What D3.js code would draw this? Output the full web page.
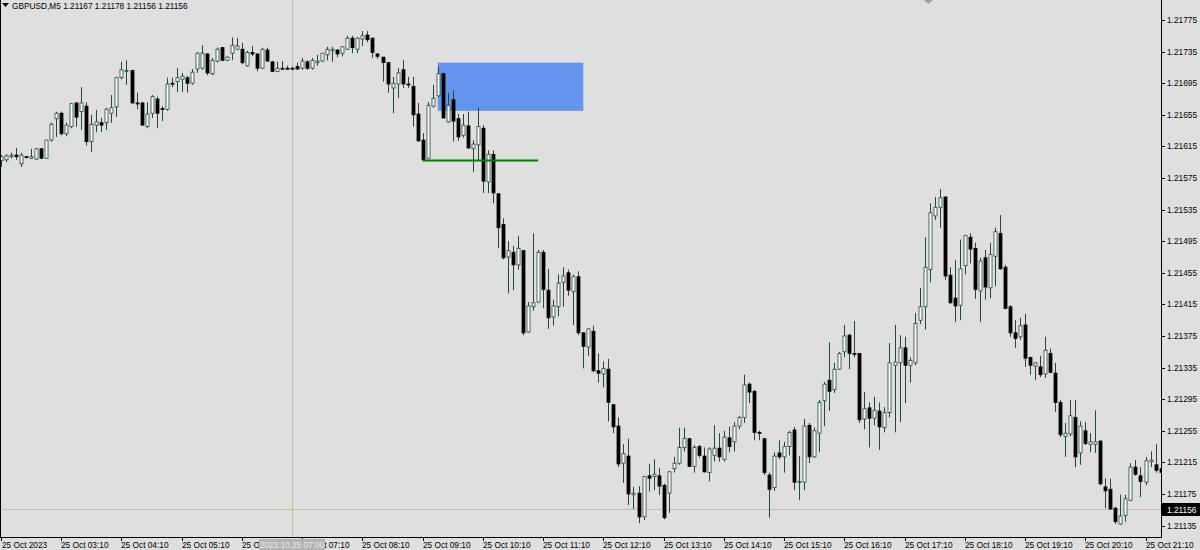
<!DOCTYPE html>
<html>
<head>
<meta charset="utf-8">
<script src="https://cdn.jsdelivr.net/npm/d3@7"></script>
<style>
  body { margin: 0; background: #dfdfdf; }
  svg text { font-family: "Liberation Sans", Arial, sans-serif; }
</style>
</head>
<body>
<div id="vis"></div>
<script>
// GBPUSD M5 bars, first one is 25 Oct 02:10, one bar every 5 minutes
var opens = [1.21597,1.21598,1.21602,1.21604,1.21593,1.21602,1.21600,1.21599,1.21612,1.21600,1.21623,1.21650,1.21657,1.21631,1.21640,1.21670,1.21659,1.21666,1.21621,1.21642,1.21645,1.21645,1.21657,1.21665,1.21702,1.21710,1.21711,1.21670,1.21670,1.21640,1.21657,1.21675,1.21663,1.21662,1.21695,1.21697,1.21700,1.21702,1.21695,1.21713,1.21714,1.21732,1.21707,1.21723,1.21740,1.21724,1.21733,1.21738,1.21738,1.21717,1.21734,1.21732,1.21714,1.21737,1.21722,1.21710,1.21714,1.21714,1.21714,1.21716,1.21714,1.21722,1.21714,1.21721,1.21723,1.21731,1.21736,1.21737,1.21733,1.21738,1.21752,1.21738,1.21751,1.21756,1.21752,1.21732,1.21728,1.21721,1.21689,1.21694,1.21712,1.21694,1.21691,1.21656,1.21623,1.21600,1.21666,1.21679,1.21707,1.21646,1.21674,1.21650,1.21629,1.21641,1.21612,1.21617,1.21638,1.21570,1.21605,1.21555,1.21516,1.21475,1.21481,1.21465,1.21483,1.21380,1.21412,1.21418,1.21481,1.21433,1.21399,1.21412,1.21443,1.21455,1.21431,1.21450,1.21379,1.21361,1.21381,1.21331,1.21327,1.21333,1.21288,1.21261,1.21214,1.21223,1.21174,1.21176,1.21146,1.21198,1.21197,1.21198,1.21186,1.21176,1.21207,1.21214,1.21234,1.21245,1.21210,1.21235,1.21223,1.21202,1.21224,1.21233,1.21219,1.21246,1.21241,1.21261,1.21272,1.21314,1.21305,1.21253,1.21245,1.21199,1.21183,1.21227,1.21222,1.21235,1.21256,1.21190,1.21190,1.21262,1.21222,1.21252,1.21293,1.21319,1.21307,1.21333,1.21355,1.21376,1.21353,1.21353,1.21270,1.21284,1.21271,1.21280,1.21259,1.21278,1.21338,1.21341,1.21360,1.21338,1.21341,1.21395,1.21412,1.21459,1.21527,1.21538,1.21551,1.21452,1.21423,1.21414,1.21464,1.21500,1.21486,1.21432,1.21474,1.21436,1.21476,1.21505,1.21462,1.21412,1.21379,1.21374,1.21389,1.21348,1.21337,1.21336,1.21327,1.21353,1.21328,1.21291,1.21248,1.21251,1.21272,1.21227,1.21255,1.21238,1.21238,1.21242,1.21184,1.21181,1.21157,1.21137,1.21148,1.21167,1.21209,1.21198,1.21190,1.21216,1.21212,1.21207];
var highs = [1.21604,1.21605,1.21607,1.21613,1.21607,1.21603,1.21612,1.21613,1.21613,1.21623,1.21645,1.21659,1.21659,1.21645,1.21670,1.21671,1.21690,1.21671,1.21655,1.21661,1.21651,1.21664,1.21680,1.21703,1.21722,1.21724,1.21712,1.21683,1.21671,1.21671,1.21680,1.21678,1.21666,1.21702,1.21702,1.21714,1.21708,1.21704,1.21713,1.21734,1.21743,1.21733,1.21727,1.21740,1.21741,1.21729,1.21753,1.21752,1.21746,1.21736,1.21742,1.21733,1.21740,1.21740,1.21723,1.21722,1.21723,1.21717,1.21716,1.21721,1.21727,1.21724,1.21727,1.21731,1.21733,1.21741,1.21741,1.21738,1.21742,1.21755,1.21755,1.21753,1.21761,1.21761,1.21753,1.21733,1.21728,1.21722,1.21703,1.21714,1.21724,1.21703,1.21703,1.21670,1.21632,1.21671,1.21693,1.21716,1.21708,1.21683,1.21686,1.21656,1.21656,1.21659,1.21623,1.21664,1.21642,1.21610,1.21610,1.21556,1.21524,1.21495,1.21489,1.21502,1.21484,1.21418,1.21505,1.21484,1.21484,1.21460,1.21421,1.21453,1.21462,1.21459,1.21453,1.21457,1.21380,1.21385,1.21388,1.21353,1.21343,1.21346,1.21289,1.21272,1.21238,1.21245,1.21184,1.21185,1.21197,1.21213,1.21219,1.21208,1.21188,1.21204,1.21222,1.21259,1.21259,1.21246,1.21237,1.21237,1.21234,1.21234,1.21262,1.21252,1.21255,1.21260,1.21266,1.21274,1.21326,1.21316,1.21307,1.21255,1.21246,1.21202,1.21228,1.21243,1.21241,1.21255,1.21260,1.21223,1.21270,1.21265,1.21259,1.21294,1.21317,1.21367,1.21341,1.21355,1.21389,1.21378,1.21394,1.21353,1.21304,1.21291,1.21298,1.21291,1.21285,1.21366,1.21389,1.21376,1.21374,1.21348,1.21404,1.21436,1.21500,1.21543,1.21551,1.21561,1.21551,1.21462,1.21471,1.21497,1.21503,1.21505,1.21493,1.21474,1.21484,1.21493,1.21512,1.21528,1.21465,1.21414,1.21395,1.21398,1.21403,1.21348,1.21342,1.21350,1.21374,1.21359,1.21341,1.21294,1.21265,1.21294,1.21294,1.21267,1.21266,1.21252,1.21281,1.21243,1.21195,1.21194,1.21159,1.21174,1.21174,1.21214,1.21218,1.21209,1.21222,1.21229,1.21238,1.21222];
var lows = [1.21589,1.21595,1.21600,1.21598,1.21589,1.21600,1.21599,1.21598,1.21599,1.21599,1.21621,1.21627,1.21629,1.21628,1.21638,1.21640,1.21636,1.21616,1.21608,1.21633,1.21633,1.21636,1.21645,1.21652,1.21700,1.21693,1.21669,1.21662,1.21641,1.21638,1.21651,1.21638,1.21647,1.21660,1.21690,1.21684,1.21684,1.21683,1.21693,1.21708,1.21712,1.21705,1.21705,1.21721,1.21723,1.21723,1.21724,1.21737,1.21719,1.21716,1.21729,1.21710,1.21713,1.21722,1.21709,1.21709,1.21712,1.21712,1.21712,1.21712,1.21712,1.21712,1.21712,1.21717,1.21722,1.21724,1.21722,1.21728,1.21729,1.21737,1.21733,1.21733,1.21742,1.21747,1.21727,1.21726,1.21697,1.21683,1.21657,1.21676,1.21689,1.21689,1.21640,1.21621,1.21597,1.21599,1.21664,1.21678,1.21650,1.21645,1.21621,1.21622,1.21626,1.21612,1.21583,1.21598,1.21556,1.21556,1.21543,1.21486,1.21472,1.21429,1.21433,1.21459,1.21376,1.21379,1.21407,1.21417,1.21410,1.21384,1.21388,1.21400,1.21412,1.21426,1.21389,1.21376,1.21334,1.21350,1.21329,1.21316,1.21310,1.21267,1.21252,1.21209,1.21189,1.21161,1.21156,1.21138,1.21142,1.21178,1.21180,1.21174,1.21143,1.21151,1.21202,1.21212,1.21229,1.21209,1.21202,1.21221,1.21202,1.21191,1.21216,1.21216,1.21216,1.21228,1.21229,1.21257,1.21265,1.21290,1.21243,1.21243,1.21199,1.21145,1.21179,1.21219,1.21202,1.21224,1.21180,1.21167,1.21180,1.21214,1.21221,1.21228,1.21261,1.21280,1.21303,1.21332,1.21348,1.21333,1.21348,1.21265,1.21257,1.21234,1.21262,1.21231,1.21253,1.21272,1.21253,1.21266,1.21290,1.21316,1.21338,1.21390,1.21383,1.21443,1.21522,1.21512,1.21446,1.21416,1.21393,1.21395,1.21453,1.21467,1.21422,1.21393,1.21421,1.21423,1.21438,1.21459,1.21409,1.21374,1.21360,1.21370,1.21336,1.21326,1.21319,1.21323,1.21322,1.21328,1.21279,1.21247,1.21222,1.21248,1.21209,1.21212,1.21237,1.21228,1.21227,1.21186,1.21157,1.21155,1.21137,1.21136,1.21140,1.21166,1.21198,1.21171,1.21186,1.21209,1.21202,1.21184];
var closes = [1.21602,1.21603,1.21604,1.21602,1.21604,1.21602,1.21602,1.21612,1.21600,1.21623,1.21643,1.21657,1.21631,1.21642,1.21669,1.21652,1.21670,1.21621,1.21643,1.21646,1.21642,1.21662,1.21664,1.21702,1.21712,1.21711,1.21670,1.21669,1.21642,1.21656,1.21678,1.21657,1.21662,1.21694,1.21694,1.21702,1.21704,1.21695,1.21709,1.21733,1.21733,1.21708,1.21724,1.21738,1.21724,1.21728,1.21743,1.21742,1.21721,1.21734,1.21732,1.21714,1.21738,1.21723,1.21710,1.21714,1.21713,1.21713,1.21713,1.21713,1.21723,1.21714,1.21724,1.21723,1.21733,1.21738,1.21738,1.21732,1.21741,1.21752,1.21740,1.21752,1.21755,1.21750,1.21734,1.21729,1.21721,1.21694,1.21695,1.21708,1.21694,1.21693,1.21655,1.21622,1.21598,1.21667,1.21676,1.21707,1.21651,1.21667,1.21647,1.21627,1.21642,1.21613,1.21618,1.21640,1.21571,1.21605,1.21556,1.21512,1.21474,1.21483,1.21465,1.21486,1.21379,1.21413,1.21417,1.21481,1.21434,1.21398,1.21413,1.21442,1.21451,1.21433,1.21450,1.21379,1.21362,1.21384,1.21331,1.21328,1.21334,1.21291,1.21260,1.21213,1.21226,1.21175,1.21176,1.21146,1.21197,1.21195,1.21200,1.21185,1.21145,1.21203,1.21214,1.21234,1.21245,1.21210,1.21234,1.21224,1.21203,1.21232,1.21233,1.21222,1.21247,1.21235,1.21261,1.21272,1.21313,1.21304,1.21253,1.21252,1.21202,1.21181,1.21223,1.21222,1.21235,1.21253,1.21190,1.21191,1.21261,1.21222,1.21255,1.21291,1.21314,1.21305,1.21333,1.21353,1.21375,1.21353,1.21352,1.21269,1.21283,1.21271,1.21281,1.21260,1.21278,1.21341,1.21342,1.21360,1.21338,1.21344,1.21391,1.21412,1.21462,1.21531,1.21538,1.21550,1.21451,1.21417,1.21413,1.21460,1.21502,1.21485,1.21434,1.21470,1.21437,1.21478,1.21507,1.21460,1.21410,1.21379,1.21372,1.21388,1.21347,1.21338,1.21341,1.21326,1.21357,1.21329,1.21291,1.21250,1.21252,1.21274,1.21222,1.21261,1.21239,1.21241,1.21241,1.21188,1.21179,1.21156,1.21140,1.21147,1.21169,1.21209,1.21200,1.21191,1.21217,1.21218,1.21205,1.21202];

var priceTicks = [1.21775,1.21735,1.21695,1.21655,1.21615,1.21575,1.21535,1.21495,1.21455,1.21415,1.21375,1.21335,1.21295,1.21255,1.21215,1.21175,1.21135];
// bar index (0 = 02:10) and label
var timeTickBars = [0,12,24,36,48,60,72,84,96,108,120,132,144,156,168,180,192,204,216,228];
var timeTickLabels = ["25 Oct 2023","25 Oct 03:10","25 Oct 04:10","25 Oct 05:10","25 Oct 06:10","25 Oct 07:10","25 Oct 08:10","25 Oct 09:10","25 Oct 10:10","25 Oct 11:10","25 Oct 12:10","25 Oct 13:10","25 Oct 14:10","25 Oct 15:10","25 Oct 16:10","25 Oct 17:10","25 Oct 18:10","25 Oct 19:10","25 Oct 20:10","25 Oct 21:10"];

var symbolTitle = "GBPUSD,M5";
var lastBar = ["1.21167","1.21178","1.21156","1.21156"];
var bidPrice = 1.21156;

// drawn objects
var zoneBars = [87, 116], zonePrices = [1.21721, 1.21660];
var levelBars = [84, 107], levelPrice = 1.21598;
var vlineBar = 58, vlineLabel = "2023.10.25 07:00";

var W = 1200, H = 550;
var plotRight = 1161, plotBottom = 537;
var fs = "8.3px";

var x = d3.scaleLinear().domain([0, 228]).range([1, 1145.5]);
var y = d3.scaleLinear().domain([1.21135, 1.21775]).range([525.6, 20]);

var svg = d3.select("#vis").append("svg")
    .attr("width", W)
    .attr("height", H);

svg.append("rect").attr("width", W).attr("height", H).attr("fill", "#dfdfdf");

var defs = svg.append("defs");
defs.append("clipPath").attr("id", "plotclip")
  .append("rect").attr("x", 0).attr("y", 0).attr("width", plotRight).attr("height", plotBottom);

var plot = svg.append("g").attr("clip-path", "url(#plotclip)");

// vertical line object
plot.append("line")
    .attr("x1", Math.round(x(vlineBar)) + 0.5).attr("x2", Math.round(x(vlineBar)) + 0.5)
    .attr("y1", 0).attr("y2", plotBottom)
    .attr("stroke", "#c9bd9f").attr("stroke-width", 1);

// bid line
plot.append("line")
    .attr("x1", 0).attr("x2", plotRight)
    .attr("y1", Math.round(y(bidPrice)) + 0.5).attr("y2", Math.round(y(bidPrice)) + 0.5)
    .attr("stroke", "#c9bd9f").attr("stroke-width", 1);

// blue zone
plot.append("rect")
    .attr("x", x(zoneBars[0]))
    .attr("y", y(zonePrices[0]))
    .attr("width", x(zoneBars[1]) - x(zoneBars[0]))
    .attr("height", y(zonePrices[1]) - y(zonePrices[0]))
    .attr("fill", "#6495ed");

var candleColor = "#24463c";
var bars = d3.range(opens.length);

// wicks
plot.selectAll(".wick")
    .data(bars)
  .enter().append("line")
    .attr("class", "wick")
    .attr("x1", function(i) { return Math.round(x(i)) + 0.5; })
    .attr("x2", function(i) { return Math.round(x(i)) + 0.5; })
    .attr("y1", function(i) { return y(highs[i]); })
    .attr("y2", function(i) { return y(lows[i]); })
    .attr("stroke", candleColor)
    .attr("stroke-width", 1);

// bodies
plot.selectAll(".body")
    .data(bars)
  .enter().append("rect")
    .attr("class", "body")
    .attr("x", function(i) { return Math.round(x(i)) - 1; })
    .attr("y", function(i) { return y(Math.max(opens[i], closes[i])); })
    .attr("width", 3)
    .attr("height", function(i) { return Math.max(1, Math.abs(y(opens[i]) - y(closes[i]))); })
    .attr("fill", function(i) { return closes[i] > opens[i] ? "#ffffff" : "#000000"; })
    .attr("stroke", function(i) { return closes[i] > opens[i] ? candleColor : "#000000"; })
    .attr("stroke-width", 0.8);

// green level
plot.append("line")
    .attr("x1", x(levelBars[0])).attr("x2", x(levelBars[1]))
    .attr("y1", Math.round(y(levelPrice)) + 0.5).attr("y2", Math.round(y(levelPrice)) + 0.5)
    .attr("stroke", "#008000").attr("stroke-width", 2);

// frame
svg.append("line").attr("x1", plotRight + 0.5).attr("x2", plotRight + 0.5)
    .attr("y1", 0).attr("y2", plotBottom + 1).attr("stroke", "#000");
svg.append("line").attr("x1", 0).attr("x2", plotRight + 1)
    .attr("y1", plotBottom + 0.5).attr("y2", plotBottom + 0.5).attr("stroke", "#000");
svg.append("line").attr("x1", 0.5).attr("x2", 0.5)
    .attr("y1", 0).attr("y2", plotBottom).attr("stroke", "#000");

// price axis
var yAxis = svg.append("g").attr("class", "yaxis");
yAxis.selectAll("line")
    .data(priceTicks)
  .enter().append("line")
    .attr("x1", plotRight).attr("x2", plotRight + 4)
    .attr("y1", function(d) { return Math.round(y(d)) + 0.5; })
    .attr("y2", function(d) { return Math.round(y(d)) + 0.5; })
    .attr("stroke", "#000");
yAxis.selectAll("text")
    .data(priceTicks)
  .enter().append("text")
    .attr("x", 1167)
    .attr("y", function(d) { return y(d) + 3; })
    .attr("font-size", fs)
    .attr("fill", "#000")
    .text(function(d) { return d3.format(".5f")(d); });

// bid label
var by = Math.round(y(bidPrice));
svg.append("rect").attr("x", plotRight + 1).attr("y", by - 6).attr("width", 38).attr("height", 13).attr("fill", "#000");
svg.append("text").attr("x", 1167).attr("y", by + 3.5)
    .attr("font-size", fs).attr("fill", "#fff")
    .text(d3.format(".5f")(bidPrice));

// time axis; the vertical line's label box hides part of two labels,
// so those labels are cut at the box edges
var vx = Math.round(x(vlineBar));
var boxL = vx - 33, boxR = vx + 33;
var cutClip = defs.append("clipPath").attr("id", "timeclip");
cutClip.append("rect").attr("x", 0).attr("y", plotBottom).attr("width", boxL).attr("height", H - plotBottom);
cutClip.append("rect").attr("x", boxR).attr("y", plotBottom).attr("width", W - boxR).attr("height", H - plotBottom);

var xAxis = svg.append("g").attr("class", "xaxis");
xAxis.selectAll("line")
    .data(timeTickBars)
  .enter().append("line")
    .attr("x1", function(d) { return Math.round(x(d)) + 0.5; })
    .attr("x2", function(d) { return Math.round(x(d)) + 0.5; })
    .attr("y1", plotBottom).attr("y2", plotBottom + 4)
    .attr("stroke", "#000");
xAxis.selectAll("text")
    .data(timeTickBars)
  .enter().append("text")
    .attr("x", function(d, k) { return k === 0 ? 2 : Math.round(x(d)); })
    .attr("y", 548)
    .attr("font-size", fs)
    .attr("fill", "#000")
    .attr("clip-path", function(d) {
      var tx = Math.round(x(d));
      return (tx < boxR && tx + 46 > boxL) ? "url(#timeclip)" : null;
    })
    .text(function(d, k) { return timeTickLabels[k]; });

svg.append("rect").attr("x", boxL).attr("y", 539).attr("width", boxR - boxL).attr("height", 11).attr("fill", "#b4b4b4");
svg.append("text").attr("x", vx).attr("y", 548).attr("text-anchor", "middle")
    .attr("font-size", fs).attr("fill", "#e8e8e8").text(vlineLabel);

// header
svg.append("path").attr("d", "M2,3 L9,3 L5.5,7 Z").attr("fill", "#000");
svg.append("text").attr("x", 12).attr("y", 9)
    .attr("font-size", fs).attr("fill", "#000")
    .text(symbolTitle + "  " + lastBar.join(" "));

// small grey marker at the top
svg.append("path").attr("d", "M924,0 L933,0 L928.5,4 Z").attr("fill", "#a0a0a0");
</script>
</body>
</html>
